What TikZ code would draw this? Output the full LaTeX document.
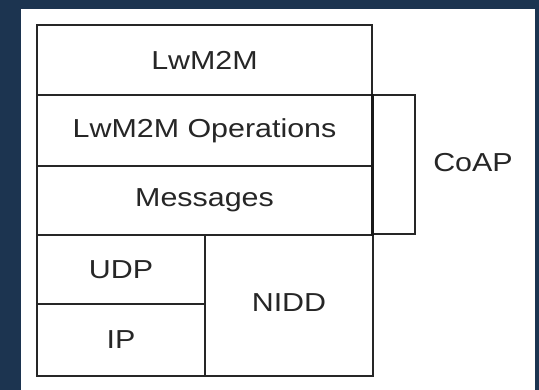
\documentclass[tikz,border=0pt]{standalone}
\usepackage{fontspec}
\setmainfont{Liberation Sans}
\newfontfamily\widesans[FakeStretch=1.17]{Liberation Sans}
\definecolor{bgblue}{HTML}{1C3450}
\tikzset{
  layer/.style={draw=black!85, line width=1.3pt, fill=white, inner sep=0pt,
    font=\widesans\fontsize{26}{28}\selectfont, text=black!85},
  lbl/.style={inner sep=0pt, font=\widesans\fontsize{26}{28}\selectfont, text=black!85}
}
\begin{document}
\begin{tikzpicture}[x=1pt,y=-1pt]
  % canvas
  \fill[bgblue] (0,0) rectangle (539,390);
  \useasboundingbox (0,0) rectangle (539,390);
  \fill[white] (21,9) rectangle (535,390);
  % CoAP bracket box
  \node[layer, minimum width=43pt, minimum height=139pt] (coapbox) at (393.5,164.5) {};
  % protocol stack
  \node[layer, minimum width=335pt, minimum height=70pt] (lwm) at (204.5,60) {LwM2M};
  \node[layer, minimum width=335pt, minimum height=71pt] (ops) at (204.5,130.5) {LwM2M Operations};
  \node[layer, minimum width=335pt, minimum height=69pt] (msg) at (204.5,200.5) {Messages};
  \node[layer, minimum width=168pt, minimum height=69pt] (udp) at (121,269.5) {UDP};
  \node[layer, minimum width=168pt, minimum height=72pt] (ip) at (121,340) {IP};
  \node[layer, minimum width=168pt, minimum height=141pt] (nidd) at (289,305.5) {\raisebox{5pt}{NIDD}};
  % thick shared edge between stack and CoAP box
  \draw[line width=3pt, black!90] (ops.north east) -- (msg.south east);
  \node[lbl] (coap) at (473,163) {CoAP};
\end{tikzpicture}
\end{document}
